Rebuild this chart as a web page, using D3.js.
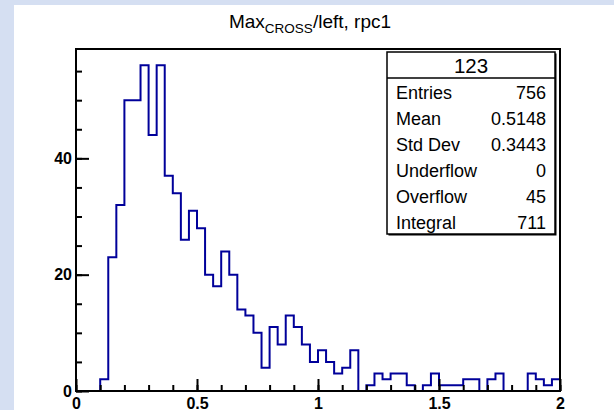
<!DOCTYPE html>
<html>
<head>
<meta charset="utf-8">
<script src="https://cdn.jsdelivr.net/npm/d3@7"></script>
<style>
  html, body { margin: 0; padding: 0; background: #d5dff2; overflow: hidden; }
  svg { display: block; }
</style>
</head>
<body>
<svg id="hist"></svg>
<script>
// histogram binning
const xMin = 0;
const xMax = 2;
const counts = [
    0, 0, 0, 2, 23, 32, 50, 50, 56, 44,
    56, 37, 34, 26, 31, 28, 20, 18, 24, 20,
    14, 13, 10, 4, 11, 8, 13, 11, 8, 5,
    7, 5, 3, 4, 7, 0, 1, 3, 2, 3,
    3, 1, 0, 1, 3, 1, 1, 1, 2, 2,
    0, 2, 3, 0, 0, 0, 3, 2, 1, 2
];

const xMajorTicks = [0, 0.5, 1, 1.5, 2];
const xTickLabels = ["0", "0.5", "1", "1.5", "2"];
const yMajorTicks = [0, 20, 40];
const yTickLabels = ["0", "20", "40"];

// stats box contents
const statsTitle = "123";
const statsNames = ["Entries", "Mean", "Std Dev", "Underflow", "Overflow", "Integral"];
const statsValues = ["756", "0.5148", "0.3443", "0", "45", "711"];

const width = 614;
const height = 410;
const font = "'Liberation Sans', Arial, Helvetica, sans-serif";

const svg = d3.select("#hist")
    .attr("width", width)
    .attr("height", height);

// white pad inside the light blue canvas border
svg.append("rect")
    .attr("x", 14).attr("y", 5)
    .attr("width", width - 14).attr("height", height - 5)
    .attr("fill", "#ffffff");

const frame = { left: 76, right: 560, top: 49, bottom: 391 };

const nBins = counts.length;
const binWidth = (xMax - xMin) / nBins;
const yMax = d3.max(counts) * 1.05;

const x = d3.scaleLinear().domain([xMin, xMax]).range([frame.left, frame.right]);
const y = d3.scaleLinear().domain([0, yMax]).range([frame.bottom, frame.top]);

// step outline of the histogram
const points = counts.map((c, i) => [xMin + i * binWidth, c]);
points.push([xMax, counts[nBins - 1]]);

const line = d3.line()
    .x(d => x(d[0]))
    .y(d => y(d[1]))
    .curve(d3.curveStepAfter);

svg.append("path")
    .datum(points)
    .attr("d", line)
    .attr("fill", "none")
    .attr("stroke", "#00009a")
    .attr("stroke-width", 2);

// frame
svg.append("rect")
    .attr("x", frame.left).attr("y", frame.top)
    .attr("width", frame.right - frame.left)
    .attr("height", frame.bottom - frame.top)
    .attr("fill", "none")
    .attr("stroke", "#000")
    .attr("stroke-width", 2);

// x axis: minor ticks every 0.1, major ticks with labels
const xMinorTicks = d3.range(0, 21).map(i => i / 10);

svg.append("g")
    .attr("transform", `translate(0,${frame.bottom})`)
    .call(d3.axisBottom(x).tickValues(xMinorTicks).tickSizeInner(-6).tickSizeOuter(0).tickFormat(""))
    .call(g => g.select(".domain").remove());

svg.append("g")
    .attr("transform", `translate(0,${frame.bottom})`)
    .call(d3.axisBottom(x).tickValues(xMajorTicks).tickSizeInner(-12).tickSizeOuter(0).tickPadding(7)
        .tickFormat((d, i) => xTickLabels[i]))
    .call(g => g.select(".domain").remove())
    .call(g => g.selectAll("text")
        .attr("font-family", font)
        .attr("font-size", 16)
        .attr("font-weight", "bold")
        .attr("fill", "#000"));

// y axis: minor ticks every 5, major ticks with labels
const yMinorTicks = d3.range(0, 60, 5);

svg.append("g")
    .attr("transform", `translate(${frame.left},0)`)
    .call(d3.axisLeft(y).tickValues(yMinorTicks).tickSizeInner(-6).tickSizeOuter(0).tickFormat(""))
    .call(g => g.select(".domain").remove());

svg.append("g")
    .attr("transform", `translate(${frame.left},0)`)
    .call(d3.axisLeft(y).tickValues(yMajorTicks).tickSizeInner(-13).tickSizeOuter(0).tickPadding(4)
        .tickFormat((d, i) => yTickLabels[i]))
    .call(g => g.select(".domain").remove())
    .call(g => g.selectAll("text")
        .attr("font-family", font)
        .attr("font-size", 16)
        .attr("font-weight", "bold")
        .attr("fill", "#000"));

svg.selectAll(".tick line").attr("stroke", "#000").attr("stroke-width", 2);

// title with subscript
const title = svg.append("text")
    .attr("x", 310)
    .attr("y", 28)
    .attr("text-anchor", "middle")
    .attr("font-family", font)
    .attr("font-size", 19)
    .attr("fill", "#000");
title.append("tspan").text("Max");
title.append("tspan").attr("dy", 5).attr("font-size", 13.5).text("CROSS");
title.append("tspan").attr("dy", -5).text("/left, rpc1");

// stats box
const box = { x: 387, y: 52, w: 168, h: 182, header: 26 };

svg.append("rect")
    .attr("x", box.x + 1.5).attr("y", box.y + 1.5)
    .attr("width", box.w).attr("height", box.h)
    .attr("fill", "#000");

svg.append("rect")
    .attr("x", box.x).attr("y", box.y)
    .attr("width", box.w).attr("height", box.h)
    .attr("fill", "#fff")
    .attr("stroke", "#000")
    .attr("stroke-width", 1.5);

svg.append("line")
    .attr("x1", box.x).attr("x2", box.x + box.w)
    .attr("y1", box.y + box.header).attr("y2", box.y + box.header)
    .attr("stroke", "#000")
    .attr("stroke-width", 1.5);

svg.append("text")
    .attr("x", box.x + box.w / 2)
    .attr("y", box.y + 21)
    .attr("text-anchor", "middle")
    .attr("font-family", font)
    .attr("font-size", 20.5)
    .text(statsTitle);

const rowPitch = (box.h - box.header) / statsNames.length;

svg.selectAll("text.stat-name")
    .data(statsNames)
    .enter().append("text")
    .attr("class", "stat-name")
    .attr("x", box.x + 9)
    .attr("y", (d, i) => box.y + box.header + (i + 0.5) * rowPitch + 7.5)
    .attr("font-family", font)
    .attr("font-size", 18)
    .text(d => d);

svg.selectAll("text.stat-value")
    .data(statsValues)
    .enter().append("text")
    .attr("class", "stat-value")
    .attr("x", box.x + box.w - 9)
    .attr("y", (d, i) => box.y + box.header + (i + 0.5) * rowPitch + 7.5)
    .attr("text-anchor", "end")
    .attr("font-family", font)
    .attr("font-size", 18)
    .text(d => d);
</script>
</body>
</html>
